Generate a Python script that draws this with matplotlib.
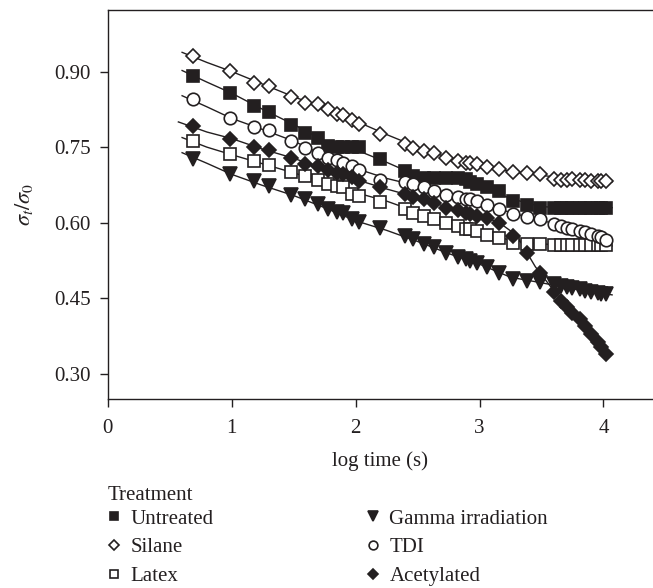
import matplotlib
matplotlib.use("Agg")
import matplotlib.pyplot as plt

plt.rcParams['font.family'] = ['Liberation Serif', 'DejaVu Serif']
plt.rcParams['mathtext.fontset'] = 'stix'

INK = '#231f20'

# log time (s) of the measurements
log_t = [0.69, 0.99, 1.18, 1.30, 1.48, 1.59, 1.70, 1.78, 1.85, 1.90, 1.97, 2.03, 2.20,
         2.40, 2.46, 2.55, 2.63, 2.73, 2.83, 2.89, 2.92, 2.98, 3.06, 3.16, 3.27, 3.38, 3.49,
         3.60, 3.66, 3.71, 3.75, 3.81, 3.85, 3.90, 3.96, 3.98, 4.02]

untreated = [0.891, 0.858, 0.831, 0.819, 0.793, 0.779, 0.769, 0.753, 0.750, 0.750, 0.750, 0.750, 0.726,
             0.703, 0.693, 0.688, 0.688, 0.688, 0.688, 0.686, 0.681, 0.676, 0.670, 0.663, 0.643, 0.635, 0.630,
             0.629, 0.629, 0.629, 0.629, 0.630, 0.629, 0.629, 0.630, 0.630, 0.630]
silane = [0.930, 0.901, 0.878, 0.871, 0.850, 0.838, 0.835, 0.825, 0.815, 0.813, 0.803, 0.795, 0.777,
          0.757, 0.749, 0.742, 0.739, 0.729, 0.722, 0.719, 0.718, 0.716, 0.711, 0.706, 0.701, 0.699, 0.696,
          0.687, 0.685, 0.685, 0.687, 0.684, 0.684, 0.682, 0.682, 0.683, 0.683]
latex = [0.763, 0.736, 0.722, 0.714, 0.701, 0.693, 0.685, 0.676, 0.673, 0.670, 0.658, 0.654, 0.642,
         0.627, 0.620, 0.613, 0.607, 0.600, 0.594, 0.588, 0.587, 0.584, 0.575, 0.569, 0.559, 0.557, 0.557,
         0.555, 0.555, 0.555, 0.555, 0.555, 0.555, 0.555, 0.555, 0.555, 0.555]
gamma = [0.726, 0.696, 0.683, 0.673, 0.656, 0.647, 0.637, 0.627, 0.621, 0.619, 0.607, 0.602, 0.589,
         0.574, 0.567, 0.557, 0.551, 0.540, 0.533, 0.528, 0.524, 0.520, 0.513, 0.501, 0.488, 0.485, 0.482,
         0.478, 0.475, 0.472, 0.470, 0.468, 0.465, 0.462, 0.460, 0.458, 0.458]
tdi = [0.846, 0.807, 0.790, 0.784, 0.763, 0.749, 0.739, 0.729, 0.724, 0.719, 0.712, 0.705, 0.685,
       0.681, 0.676, 0.670, 0.663, 0.656, 0.652, 0.648, 0.647, 0.643, 0.635, 0.627, 0.617, 0.611, 0.607,
       0.597, 0.594, 0.590, 0.587, 0.584, 0.581, 0.577, 0.574, 0.571, 0.566]
acetylated = [0.792, 0.767, 0.751, 0.744, 0.729, 0.716, 0.712, 0.705, 0.699, 0.696, 0.690, 0.683, 0.670,
              0.658, 0.652, 0.648, 0.640, 0.630, 0.625, 0.620, 0.618, 0.613, 0.609, 0.600, 0.574, 0.541, 0.500,
              0.462, 0.445, 0.432, 0.422, 0.409, 0.396, 0.379, 0.363, 0.353, 0.340]

# fitted curves
fit_x = [0.60, 0.80, 1.00, 1.25, 1.50, 1.75, 2.00, 2.25, 2.50, 2.75, 3.00, 3.25, 3.50, 3.75, 4.07]
fit_untreated = [0.902, 0.879, 0.857, 0.825, 0.795, 0.762, 0.745, 0.720, 0.693, 0.686, 0.675, 0.648, 0.632, 0.629, 0.630]
fit_silane = [0.938, 0.918, 0.900, 0.875, 0.850, 0.827, 0.802, 0.775, 0.750, 0.729, 0.714, 0.702, 0.694, 0.687, 0.681]
fit_latex = [0.769, 0.750, 0.735, 0.717, 0.699, 0.680, 0.660, 0.643, 0.621, 0.600, 0.583, 0.565, 0.558, 0.555, 0.554]
fit_gamma = [0.739, 0.718, 0.696, 0.674, 0.654, 0.630, 0.604, 0.585, 0.563, 0.539, 0.518, 0.492, 0.481, 0.469, 0.457]
fit_tdi = [0.852, 0.830, 0.807, 0.785, 0.762, 0.733, 0.708, 0.688, 0.673, 0.656, 0.642, 0.620, 0.605, 0.588, 0.564]
fit_acet_x = [0.57, 0.80, 1.00, 1.25, 1.50, 1.75, 2.00, 2.25, 2.50, 2.75, 3.00, 3.15, 3.30, 3.45, 3.60, 3.80, 4.02]
fit_acetylated = [0.800, 0.780, 0.767, 0.746, 0.728, 0.706, 0.686, 0.667, 0.650, 0.630, 0.613, 0.602, 0.575,
                  0.513, 0.465, 0.405, 0.338]

series = [
    ('Untreated', untreated, fit_x, fit_untreated, 's', INK, 8.5),
    ('Silane', silane, fit_x, fit_silane, 'D', 'white', 7),
    ('Latex', latex, fit_x, fit_latex, 's', 'white', 8),
    ('Gamma irradiation', gamma, fit_x, fit_gamma, 'v', INK, 9.5),
    ('TDI', tdi, fit_x, fit_tdi, 'o', 'white', 9),
    ('Acetylated', acetylated, fit_acet_x, fit_acetylated, 'D', INK, 7),
]

fig = plt.figure(figsize=(6.53, 5.88), dpi=100)
ax = fig.add_axes([0.165, 0.321, 0.835, 0.662])

handles = []
for name, ys, fx, fy, mk, face, ms in series:
    ax.plot(fx, fy, '-', color=INK, lw=1.0, zorder=2)
    h, = ax.plot(log_t, ys, linestyle='none', marker=mk, ms=ms, mfc=face, mec=INK, mew=1.2,
                 label=name, zorder=3)
    handles.append(h)

ax.set_xlim(0, 4.4)
ax.set_ylim(0.25, 1.022)
ax.set_xticks([0, 1, 2, 3, 4])
ax.set_yticks([0.30, 0.45, 0.60, 0.75, 0.90])
ax.set_yticklabels(['0.30', '0.45', '0.60', '0.75', '0.90'])
ax.spines['right'].set_visible(False)
for s in ['left', 'bottom', 'top']:
    ax.spines[s].set_color(INK)
    ax.spines[s].set_linewidth(1.0)
ax.tick_params(axis='both', direction='out', length=6, width=1, color=INK,
               labelsize=15, labelcolor=INK)
ax.tick_params(axis='x', pad=8)
ax.tick_params(axis='y', pad=6)

ax.set_xlabel('log time (s)', fontsize=15, color=INK, labelpad=10)
ax.set_ylabel(r'$\sigma_t/\sigma_0$', fontsize=16, color=INK, labelpad=14)

fig.text(0.165, 1 - 495 / 588, 'Treatment', fontsize=15, color=INK, ha='left', va='center')
leg = fig.legend(handles=handles, loc='upper left', bbox_to_anchor=(0.158, 0.134), ncol=2,
                 frameon=False, fontsize=15, markerscale=0.7, handlelength=1.0, handletextpad=0.3,
                 columnspacing=7.15, labelspacing=0.43, borderaxespad=0, borderpad=0)
for t in leg.get_texts():
    t.set_color(INK)

fig.savefig('out.png', dpi=100)
